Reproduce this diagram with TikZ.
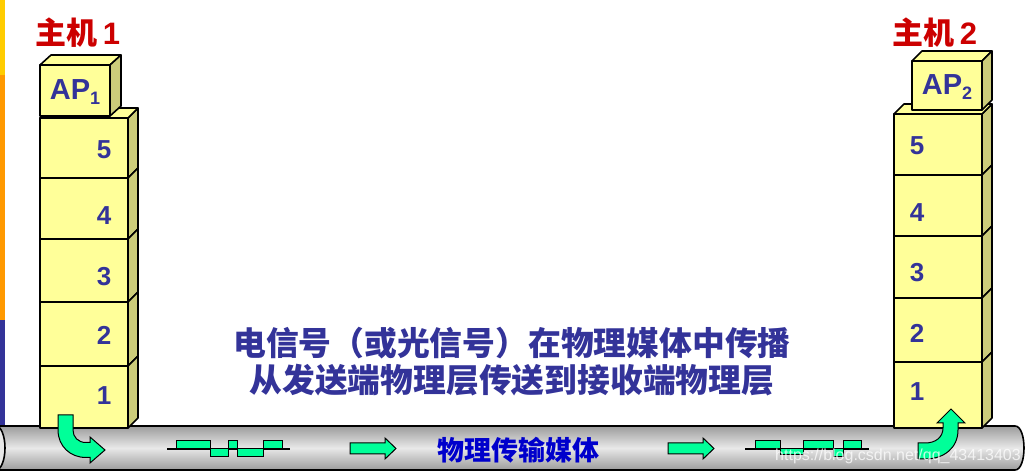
\documentclass[tikz,border=0pt]{standalone}
\usepackage{fontspec}
\setmainfont{Liberation Sans}
\newfontfamily\cjk{Noto Sans CJK SC}
\definecolor{boxyellow}{HTML}{FFFF99}
\definecolor{boxolive}{HTML}{CCCC7A}
\definecolor{numblue}{HTML}{333399}
\definecolor{titlered}{HTML}{CC0000}
\definecolor{mediablue}{HTML}{0000CC}
\definecolor{siggreen}{HTML}{00FF99}
\definecolor{pipegray}{HTML}{9C9C9C}
\definecolor{pipelight}{HTML}{E8E8E8}
\definecolor{baryellow}{HTML}{FFCC00}
\definecolor{barorange}{HTML}{FF9900}

\begin{document}
\begin{tikzpicture}[x=0.5pt,y=-0.5pt,
  front/.style={fill=boxyellow, draw=black, thick, line join=round},
  side/.style={fill=boxolive, draw=black, thick, line join=round},
  sig/.style={fill=siggreen, draw=black, line width=0.5pt, line join=miter},
  layer/.style={text=numblue, font=\bfseries\fontsize{13}{13}\selectfont},
  host/.style={text=titlered, font=\bfseries\fontsize{15.5}{15.5}\selectfont},
  note/.style={text=numblue, font=\cjk\bfseries\fontsize{16.4}{16.4}\selectfont}]
  \useasboundingbox (0,0) rectangle (1030,475);
  \clip (0,0) rectangle (1030,475);

  % side bar of the slide
  \fill[baryellow] (0,0) rectangle (5,75);
  \fill[barorange] (0,75) rectangle (5,320);
  \fill[numblue] (0,320) rectangle (5,425);

  % transmission medium (pipe)
  \shade[top color=pipegray, bottom color=pipegray, middle color=pipelight]
    (-20,426) -- (1015,426) .. controls (1027,426) and (1027,470) .. (1015,470) -- (-20,470) -- cycle;
  \draw[thick] (-20,426) -- (1015,426) .. controls (1027,426) and (1027,470) .. (1015,470) -- (-20,470);
  \filldraw[fill=pipelight, thick] (-4,448) ellipse [x radius=9, y radius=22];

  % host 1 stack
  \foreach \t/\b in {118/178,178/239,239/302,302/366,366/428} {
    \draw[front] (40,\t) rectangle (128,\b);
    \draw[side] (128,\b) -- (138,\b-10) -- (138,\t-10) -- (128,\t) -- cycle;
  }
  \draw[front] (40,118) -- (50,108) -- (138,108) -- (128,118) -- cycle;
  \draw[front] (40,65) rectangle (110,116);
  \draw[front] (40,65) -- (51,55) -- (121,55) -- (110,65) -- cycle;
  \draw[side] (110,65) -- (121,55) -- (121,106) -- (110,116) -- cycle;

  % host 2 stack
  \foreach \t/\b in {114/175,175/236,236/298,298/362,362/428} {
    \draw[front] (894,\t) rectangle (982,\b);
    \draw[side] (982,\b) -- (992,\b-10) -- (992,\t-10) -- (982,\t) -- cycle;
  }
  \draw[front] (894,114) -- (904,104) -- (992,104) -- (982,114) -- cycle;
  \draw[front] (912,61) rectangle (982,110);
  \draw[front] (912,61) -- (922,51) -- (992,51) -- (982,61) -- cycle;
  \draw[side] (982,61) -- (992,51) -- (992,100) -- (982,110) -- cycle;

  % layer labels
  \node[layer] (L5) at (104,150) {5};
  \node[layer] (L4) at (104,216) {4};
  \node[layer] (L3) at (104,277) {3};
  \node[layer] (L2) at (104,335) {2};
  \node[layer] (L1) at (104,396) {1};
  \node[layer] (R5) at (917,146) {5};
  \node[layer] (R4) at (917,213) {4};
  \node[layer] (R3) at (917,273) {3};
  \node[layer] (R2) at (917,333) {2};
  \node[layer] (R1) at (917,392) {1};
  \node[text=numblue, font=\bfseries\fontsize{14.5}{14.5}\selectfont] (ap1) at (75,92) {AP\raisebox{-0.35ex}{\fontsize{9}{9}\selectfont 1}};
  \node[text=numblue, font=\bfseries\fontsize{14.5}{14.5}\selectfont] (ap2) at (947,87) {AP\raisebox{-0.35ex}{\fontsize{9}{9}\selectfont 2}};

  \node[host] (host1) at (78,33) {{\cjk 主机}\,1};
  \node[host] (host2) at (935,33) {{\cjk 主机}\,2};

  % signal arrows
  \draw[sig] (58,415) -- (58,430) .. controls (58,446) and (70,457.5) .. (86,457.5) -- (90,457.5)
    -- (90,463) -- (105,450) -- (90,437) -- (90,442.5) -- (86,442.5)
    .. controls (78,442.5) and (73,437) .. (73,430) -- (73,415) -- cycle;
  \draw[sig] (918,443) -- (925,443) .. controls (936,443) and (943,437) .. (943,428) -- (943,423)
    -- (937,423) -- (951,409) -- (965,423) -- (958,423) -- (958,430)
    .. controls (958,448) and (944,459) .. (925,459) -- (918,459) -- cycle;
  \foreach \s in {350,668}
    \draw[sig] (\s,443) -- (\s+35,443) -- (\s+35,438) -- (\s+46,448.5) -- (\s+35,459) -- (\s+35,454) -- (\s,454) -- cycle;

  % waveforms
  \draw[line width=0.6pt] (167,449) -- (290,449);
  \foreach \a/\b/\h in {176/210/-8,210/228/8,228/237/-8,237/263/8,263/282/-8}
    \draw[sig] (\a,449) rectangle (\b,449+\h);
  \draw[line width=0.6pt] (745,449) -- (869,449);
  \foreach \a/\b/\h in {755/780/-8,780/803/6,803/833/-8,833/843/8,843/861/-8}
    \draw[sig] (\a,449) rectangle (\b,449+\h);

  % texts
  \node[note] (msg1) at (512,343) {电信号（或光信号）在物理媒体中传播};
  \node[note] (msg2) at (512,380) {从发送端物理层传送到接收端物理层};
  \node[text=mediablue, font=\cjk\bfseries\fontsize{13.5}{13.5}\selectfont] (media) at (518,450) {物理传输媒体};
  \node[text=white, opacity=0.75, font=\fontsize{8}{8}\selectfont] (mark) at (898,456) {https://blog.csdn.net/qq\_43413403};
\end{tikzpicture}
\end{document}
